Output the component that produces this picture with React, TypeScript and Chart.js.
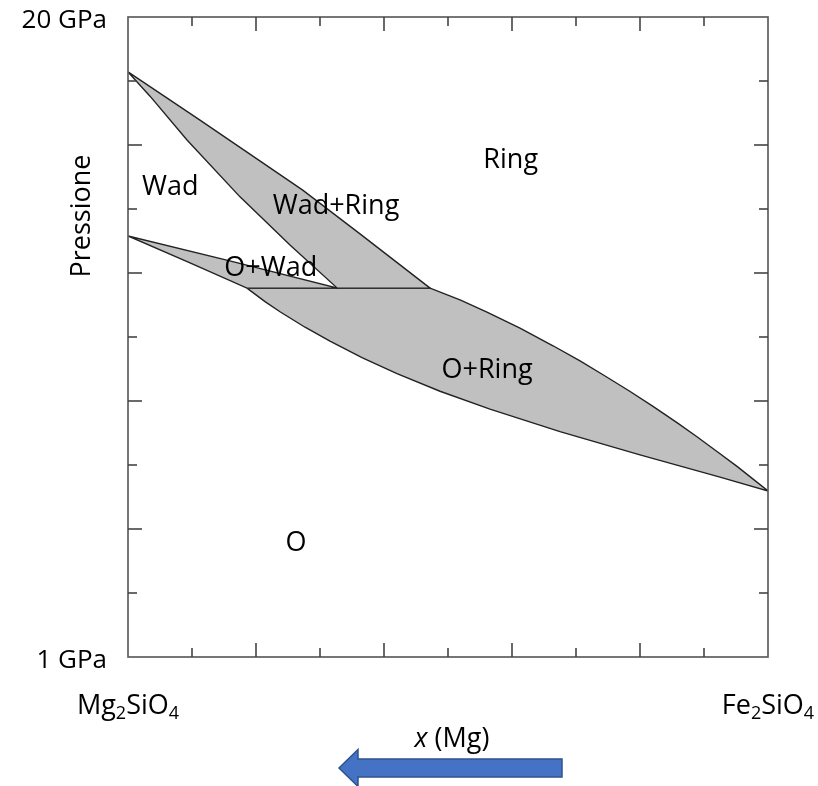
import React, { useEffect, useRef } from 'react';
import { Chart, registerables } from 'chart.js';

Chart.register(...registerables);

const FONT = '"Open Sans", "DejaVu Sans", sans-serif';

// x axis: composition (0 = Mg2SiO4 on the left, 1 = Fe2SiO4 on the right)
const xTickValues = [0, 0.1, 0.2, 0.3, 0.4, 0.5, 0.6, 0.7, 0.8, 0.9, 1];
// y axis: pressure in GPa
const pressureTickValues = [1, 2.9, 4.8, 6.7, 8.6, 10.5, 12.4, 14.3, 16.2, 18.1, 20];
const pressureLabelValues = [1, 20];
const pressureLabelTexts = ['1 GPa', '20 GPa'];
const yAxisTitle = 'Pressione';
const leftEndParts = ['Mg', '2', 'SiO', '4'];
const rightEndParts = ['Fe', '2', 'SiO', '4'];
const xTitleItalic = 'x';
const xTitleRest = ' (Mg)';

// Wad + Ring loop
const wadRingUpperX = [0, 0.1125, 0.206, 0.273, 0.3625, 0.472];
const wadRingUpperP = [18.37, 16.94, 15.73, 14.86, 13.56, 11.95];
const wadRingLowerX = [0, 0.0344, 0.0922, 0.175, 0.2531, 0.327];
const wadRingLowerP = [18.37, 17.65, 16.35, 14.66, 13.23, 11.95];
// O + Wad loop (upper branch)
const oWadUpperX = [0, 0.159, 0.327];
const oWadUpperP = [13.5, 12.76, 11.95];
// Olivine stability limit (lower boundary of O+Wad and O+Ring)
const oLowerX = [0, 0.0969, 0.1859, 0.2141, 0.2375, 0.2766, 0.3156, 0.3656, 0.4203, 0.4875, 0.5656, 0.675, 0.8, 0.925, 1];
const oLowerP = [13.5, 12.7, 11.95, 11.55, 11.25, 10.79, 10.38, 9.89, 9.41, 8.89, 8.36, 7.69, 7.0, 6.34, 5.93];
// Ring boundary of the O + Ring loop
const ringUpperX = [0.472, 0.5188, 0.5609, 0.6125, 0.6641, 0.7063, 0.7422, 0.784, 0.8203, 0.8578, 0.889, 0.9219, 0.9516, 1];
const ringUpperP = [11.95, 11.6, 11.24, 10.76, 10.24, 9.79, 9.38, 8.89, 8.44, 7.96, 7.54, 7.08, 6.66, 5.93];

// Region labels
const regionLabels = ['Wad', 'Ring', 'Wad+Ring', 'O+Wad', 'O+Ring', 'O'];
const regionLabelX = [0.066, 0.598, 0.325, 0.223, 0.561, 0.2625];
const regionLabelP = [14.95, 15.75, 14.39, 12.55, 9.52, 4.38];

const pts = (xs: number[], ps: number[]) => xs.map((x, i) => ({ x, y: ps[i] }));

function drawChem(ctx: CanvasRenderingContext2D, parts: string[], cx: number, baseline: number, size: number) {
  const big = `${size}px ${FONT}`;
  const small = `${Math.round(size * 0.65)}px ${FONT}`;
  let total = 0;
  const widths = parts.map((p, i) => {
    ctx.font = i % 2 === 1 ? small : big;
    const w = ctx.measureText(p).width;
    total += w;
    return w;
  });
  let x = cx - total / 2;
  ctx.textAlign = 'left';
  ctx.textBaseline = 'alphabetic';
  parts.forEach((p, i) => {
    const sub = i % 2 === 1;
    ctx.font = sub ? small : big;
    ctx.fillText(p, x, baseline + (sub ? 5 : 0));
    x += widths[i];
  });
}

const decorPlugin = {
  id: 'decor',
  afterDatasetsDraw(chart: any) {
    const { ctx, chartArea: a, scales } = chart;
    const xs = scales.x;
    const ys = scales.y;
    ctx.save();

    // frame
    ctx.strokeStyle = '#5f5f5f';
    ctx.lineWidth = 1.7;
    ctx.strokeRect(a.left, a.top, a.right - a.left, a.bottom - a.top);

    // inward ticks, alternating length
    ctx.strokeStyle = '#444';
    ctx.lineWidth = 1.6;
    const seg = (x1: number, y1: number, x2: number, y2: number) => {
      ctx.beginPath();
      ctx.moveTo(x1, y1);
      ctx.lineTo(x2, y2);
      ctx.stroke();
    };
    xTickValues.forEach((v, i) => {
      if (i === 0 || i === xTickValues.length - 1) return;
      const px = xs.getPixelForValue(v);
      const len = i % 2 === 0 ? 14 : 9;
      seg(px, a.bottom, px, a.bottom - len);
      seg(px, a.top, px, a.top + len);
    });
    pressureTickValues.forEach((v, i) => {
      if (i === 0 || i === pressureTickValues.length - 1) return;
      const py = ys.getPixelForValue(v);
      const len = i % 2 === 0 ? 14 : 9;
      seg(a.left, py, a.left + len, py);
      seg(a.right, py, a.right - len, py);
    });

    ctx.fillStyle = '#000';
    // region labels
    ctx.font = `27px ${FONT}`;
    ctx.textAlign = 'center';
    ctx.textBaseline = 'middle';
    regionLabels.forEach((t, i) => {
      ctx.fillText(t, xs.getPixelForValue(regionLabelX[i]), ys.getPixelForValue(regionLabelP[i]));
    });

    // y tick labels
    ctx.font = `26px ${FONT}`;
    ctx.textAlign = 'right';
    pressureLabelValues.forEach((v, i) => {
      ctx.fillText(pressureLabelTexts[i], a.left - 21, ys.getPixelForValue(v) + 4);
    });

    // y title
    ctx.save();
    ctx.translate(a.left - 46, a.top + 199);
    ctx.rotate(-Math.PI / 2);
    ctx.font = `27px ${FONT}`;
    ctx.textAlign = 'center';
    ctx.textBaseline = 'middle';
    ctx.fillText(yAxisTitle, 0, 0);
    ctx.restore();

    // end-member labels
    drawChem(ctx, leftEndParts, a.left, a.bottom + 57, 27);
    drawChem(ctx, rightEndParts, a.right, a.bottom + 57, 27);

    // x title
    ctx.textBaseline = 'alphabetic';
    ctx.font = `italic 27px ${FONT}`;
    const wi = ctx.measureText(xTitleItalic).width;
    ctx.font = `27px ${FONT}`;
    const wr = ctx.measureText(xTitleRest).width;
    const cx = (a.left + a.right) / 2 + 4;
    const sx = cx - (wi + wr) / 2;
    ctx.textAlign = 'left';
    ctx.font = `italic 27px ${FONT}`;
    ctx.fillText(xTitleItalic, sx, a.bottom + 90);
    ctx.font = `27px ${FONT}`;
    ctx.fillText(xTitleRest, sx + wi, a.bottom + 90);

    // arrow
    const cy = a.bottom + 111;
    const tip = a.left + 211;
    const base = a.left + 230;
    const end = a.left + 434;
    ctx.beginPath();
    ctx.moveTo(tip, cy);
    ctx.lineTo(base, cy - 18.5);
    ctx.lineTo(base, cy - 9);
    ctx.lineTo(end, cy - 9);
    ctx.lineTo(end, cy + 9);
    ctx.lineTo(base, cy + 9);
    ctx.lineTo(base, cy + 18.5);
    ctx.closePath();
    ctx.fillStyle = '#4472C4';
    ctx.fill();
    ctx.strokeStyle = '#2F528F';
    ctx.lineWidth = 1.5;
    ctx.stroke();

    ctx.restore();
  },
};

export default function App() {
  const ref = useRef<HTMLCanvasElement>(null);

  useEffect(() => {
    const canvas = ref.current;
    if (!canvas) return;

    const wadRingPoly = [...pts(wadRingUpperX, wadRingUpperP), ...pts(wadRingLowerX, wadRingLowerP).reverse()];
    wadRingPoly.push(wadRingPoly[0]);
    const oLowerPts = pts(oLowerX, oLowerP);
    const oWadPoly = [...pts(oWadUpperX, oWadUpperP), ...oLowerPts.slice(0, 3).reverse()];
    const oRingPoly = [oLowerPts[2], ...pts(ringUpperX, ringUpperP), ...oLowerPts.slice(2).reverse()];

    const style = {
      borderColor: '#222',
      borderWidth: 1.4,
      backgroundColor: '#c0c0c0',
      fill: 'shape' as any,
      pointRadius: 0,
      pointHoverRadius: 0,
      tension: 0,
    };

    const chart = new Chart(canvas, {
      type: 'line',
      data: {
        datasets: [
          { label: 'Wad+Ring', data: wadRingPoly, ...style },
          { label: 'O+Wad', data: oWadPoly, ...style },
          { label: 'O+Ring', data: oRingPoly, ...style },
        ],
      },
      options: {
        responsive: false,
        animation: false,
        layout: { padding: { left: 128, top: 17, right: 50, bottom: 129 } },
        plugins: { legend: { display: false }, tooltip: { enabled: false } },
        events: [],
        scales: {
          x: { type: 'linear', min: 0, max: 1, display: false },
          y: { type: 'linear', min: 1, max: 20, display: false },
        },
      },
      plugins: [decorPlugin],
    });

    return () => chart.destroy();
  }, []);

  return (
    <div style={{ position: 'fixed', left: 0, top: 0, width: 818, height: 786, background: '#fff' }}>
      <canvas ref={ref} width={818} height={786} style={{ display: 'block', width: 818, height: 786 }} />
    </div>
  );
}
